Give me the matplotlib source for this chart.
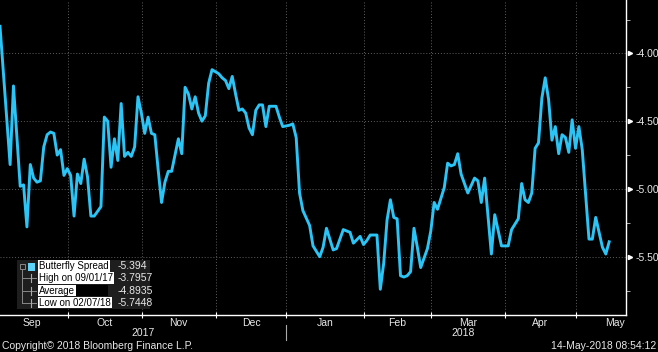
import numpy as np
import pandas as pd
import matplotlib
matplotlib.use('Agg')
import matplotlib.pyplot as plt
import matplotlib.transforms as mtransforms
from matplotlib.patches import Rectangle
from matplotlib.lines import Line2D

# business-day index counted from 01-Sep-2017
day = [0, 3, 4, 6, 7, 8, 9, 10, 11, 12, 13, 14, 15, 16, 17, 18, 19, 20, 21, 22,
       23, 24, 25, 26, 27, 28, 30, 31, 32, 33, 34, 35, 36, 37, 38, 39, 40, 41, 42, 43,
       44, 45, 46, 47, 48, 49, 50, 51, 53, 54, 55, 56, 57, 58, 59, 60, 61, 62, 63, 65,
       66, 67, 68, 69, 70, 71, 72, 73, 74, 75, 76, 77, 78, 79, 80, 82, 83, 84, 86, 87,
       88, 89, 90, 92, 93, 95, 96, 97, 99, 100, 102, 103, 104, 105, 107, 108, 109, 110, 112, 113,
       114, 115, 116, 117, 118, 119, 120, 121, 122, 123, 124, 125, 127, 128, 129, 130, 132, 133, 134, 135,
       136, 137, 139, 141, 142, 143, 144, 146, 147, 149, 151, 152, 154, 155, 156, 157, 158, 159, 160, 161,
       162, 163, 164, 165, 166, 167, 168, 169, 170, 171, 172, 173, 175, 176, 177, 179, 180, 181]
spread = [-3.80, -4.82, -4.24, -4.98, -4.97, -5.28, -4.82, -4.92, -4.95, -4.94, -4.69, -4.60, -4.58, -4.59, -4.75, -4.71, -4.90, -4.85, -4.90, -5.20,
          -4.89, -4.96, -4.78, -4.91, -5.20, -5.20, -5.13, -4.47, -4.50, -4.84, -4.63, -4.79, -4.37, -4.76, -4.73, -4.76, -4.69, -4.32, -4.44, -4.59,
          -4.47, -4.59, -4.60, -4.86, -5.10, -4.95, -4.87, -4.87, -4.63, -4.74, -4.25, -4.30, -4.41, -4.32, -4.44, -4.50, -4.46, -4.22, -4.12, -4.15,
          -4.18, -4.20, -4.26, -4.17, -4.30, -4.42, -4.41, -4.44, -4.55, -4.60, -4.42, -4.38, -4.38, -4.54, -4.39, -4.39, -4.47, -4.54, -4.53, -4.52,
          -4.62, -5.03, -5.16, -5.27, -5.42, -5.50, -5.43, -5.29, -5.45, -5.44, -5.30, -5.31, -5.32, -5.40, -5.35, -5.41, -5.38, -5.34, -5.34, -5.74,
          -5.55, -5.23, -5.08, -5.21, -5.22, -5.64, -5.65, -5.64, -5.61, -5.29, -5.43, -5.58, -5.44, -5.31, -5.10, -5.15, -4.99, -4.81, -4.83, -4.82,
          -4.74, -4.89, -5.03, -4.92, -4.94, -5.10, -4.92, -5.48, -5.19, -5.42, -5.42, -5.30, -5.22, -4.96, -5.08, -5.10, -5.03, -4.70, -4.66, -4.33,
          -4.18, -4.34, -4.64, -4.54, -4.74, -4.60, -4.62, -4.73, -4.49, -4.70, -4.54, -4.71, -5.37, -5.37, -5.21, -5.43, -5.48, -5.39]

y_ticks = [-4.0, -4.5, -5.0, -5.5]
y_minor = [-3.75, -4.25, -4.75, -5.25, -5.75]
legend_labels = ['Butterfly Spread', 'High on 09/01/17', 'Average', 'Low on 02/07/18']
legend_values = ['-5.394', '-3.7957', '-4.8935', '-5.7448']

FONT = ['Liberation Sans Narrow', 'Liberation Sans', 'DejaVu Sans']
plt.rcParams['font.family'] = FONT
LINE = '#2bc4f5'
W, H = 658, 352

def fx(px):
    return px / W

def fy(py):
    return 1 - py / H

fig = plt.figure(figsize=(W / 100, H / 100), dpi=100, facecolor='black')
ax = fig.add_axes([0, fy(315), fx(626), 315 / H], facecolor='black')
ax.plot(day, spread, color=LINE, lw=2.1, solid_joinstyle='round', zorder=3)
ax.set_xlim(0, 186)
ax.set_ylim(-5.93, -3.606)

# month boundaries (first business day of each month, slightly shifted left)
bdays = pd.bdate_range('2017-09-01', '2018-06-30')
first = [i for i in range(1, len(bdays)) if bdays[i].month != bdays[i - 1].month]
bounds = [-0.9] + [f - 0.9 for f in first]
names = [bdays[0].strftime('%b')] + [bdays[f].strftime('%b') for f in first]

ax.set_xticks([b for b in bounds if 0 < b < 186])
ax.set_yticks(y_ticks)
ax.set_yticks(y_minor, minor=True)
ax.set_yticklabels(['%.2f' % v for v in y_ticks])
ax.yaxis.tick_right()
ax.grid(True, which='major', color='#5e5e5e', ls=(0, (1, 2)), lw=0.7)
ax.tick_params(axis='x', direction='inout', length=5, color='white', labelbottom=False)
ax.tick_params(axis='y', which='major', length=0, labelcolor='#e8e8e8', labelsize=7.5, pad=7)
ax.tick_params(axis='y', which='minor', direction='out', length=3, color='#cccccc')
for s in ['top', 'left']:
    ax.spines[s].set_visible(False)
for s in ['right', 'bottom']:
    ax.spines[s].set_color('white')
    ax.spines[s].set_linewidth(1)

# arrow heads at the major y ticks
tr = mtransforms.blended_transform_factory(ax.transAxes, ax.transData)
ax.plot([1.006] * len(y_ticks), y_ticks, '>', color='white', ms=3, transform=tr, clip_on=False)

# month and year labels
trx = mtransforms.blended_transform_factory(ax.transData, ax.transAxes)
for k in range(len(names) - 1):
    mid = (bounds[k] + bounds[k + 1]) / 2
    if mid < 186:
        ax.text(mid, -0.024, names[k], transform=trx, ha='center', va='center',
                color='#e8e8e8', fontsize=7.5)
jan = bounds[names.index('Jan')]
ax.text(jan / 2, -0.058, '2017', transform=trx, ha='center', va='center', color='#e8e8e8', fontsize=7.5)
ax.text((jan + 190) / 2, -0.058, '2018', transform=trx, ha='center', va='center', color='#e8e8e8', fontsize=7.5)
ax.plot([jan, jan], [-0.032, -0.079], color='#aaaaaa', lw=0.8, transform=trx, clip_on=False)

# legend panel
fig.patches.append(Rectangle((fx(17), fy(309)), fx(150) - fx(17), fy(260) - fy(309),
                             transform=fig.transFigure, facecolor='#1e1e1e', edgecolor='none', zorder=5))
fig.patches.append(Rectangle((fx(28), fy(271)), fx(7), 8 / H, transform=fig.transFigure,
                             facecolor='#5fd3f7', edgecolor='none', zorder=6))
rows = [266, 278, 290.5, 302.5]
grey = '#888888'
fig.lines.append(Line2D([fx(22), fx(22)], [fy(270), fy(303)], transform=fig.transFigure, color=grey, lw=0.7, zorder=6))
fig.patches.append(Rectangle((fx(19.5), fy(268.5)), 5 / W, 5 / H, transform=fig.transFigure,
                             facecolor='none', edgecolor=grey, lw=0.7, zorder=6))
for r in rows[1:]:
    fig.lines.append(Line2D([fx(22), fx(36)], [fy(r), fy(r)], transform=fig.transFigure, color=grey, lw=0.7, zorder=6))
    fig.lines.append(Line2D([fx(31), fx(31)], [fy(r - 4), fy(r + 4)], transform=fig.transFigure, color='#aaaaaa', lw=0.8, zorder=6))
fig.patches.append(Rectangle((fx(72), fy(296)), fx(108) - fx(72), 11 / H, transform=fig.transFigure,
                             facecolor='black', edgecolor='none', zorder=6))
for r, lab, val in zip(rows, legend_labels, legend_values):
    fig.text(fx(39), fy(r), lab, ha='left', va='center', color='black', fontsize=7, zorder=7,
             bbox=dict(facecolor='white', edgecolor='none', pad=0.6))
    fig.text(fx(118), fy(r), val, ha='left', va='center', color='#e8e8e8', fontsize=7.5, zorder=7)

fig.text(fx(2), fy(346), 'Copyright\u00a9 2018 Bloomberg Finance L.P.', ha='left', va='center',
         color='#e8e8e8', fontsize=7.5)
fig.text(fx(656), fy(346), '14-May-2018 08:54:12', ha='right', va='center',
         color='#e8e8e8', fontsize=7.5)

fig.savefig('out.png', dpi=100, facecolor='black')
